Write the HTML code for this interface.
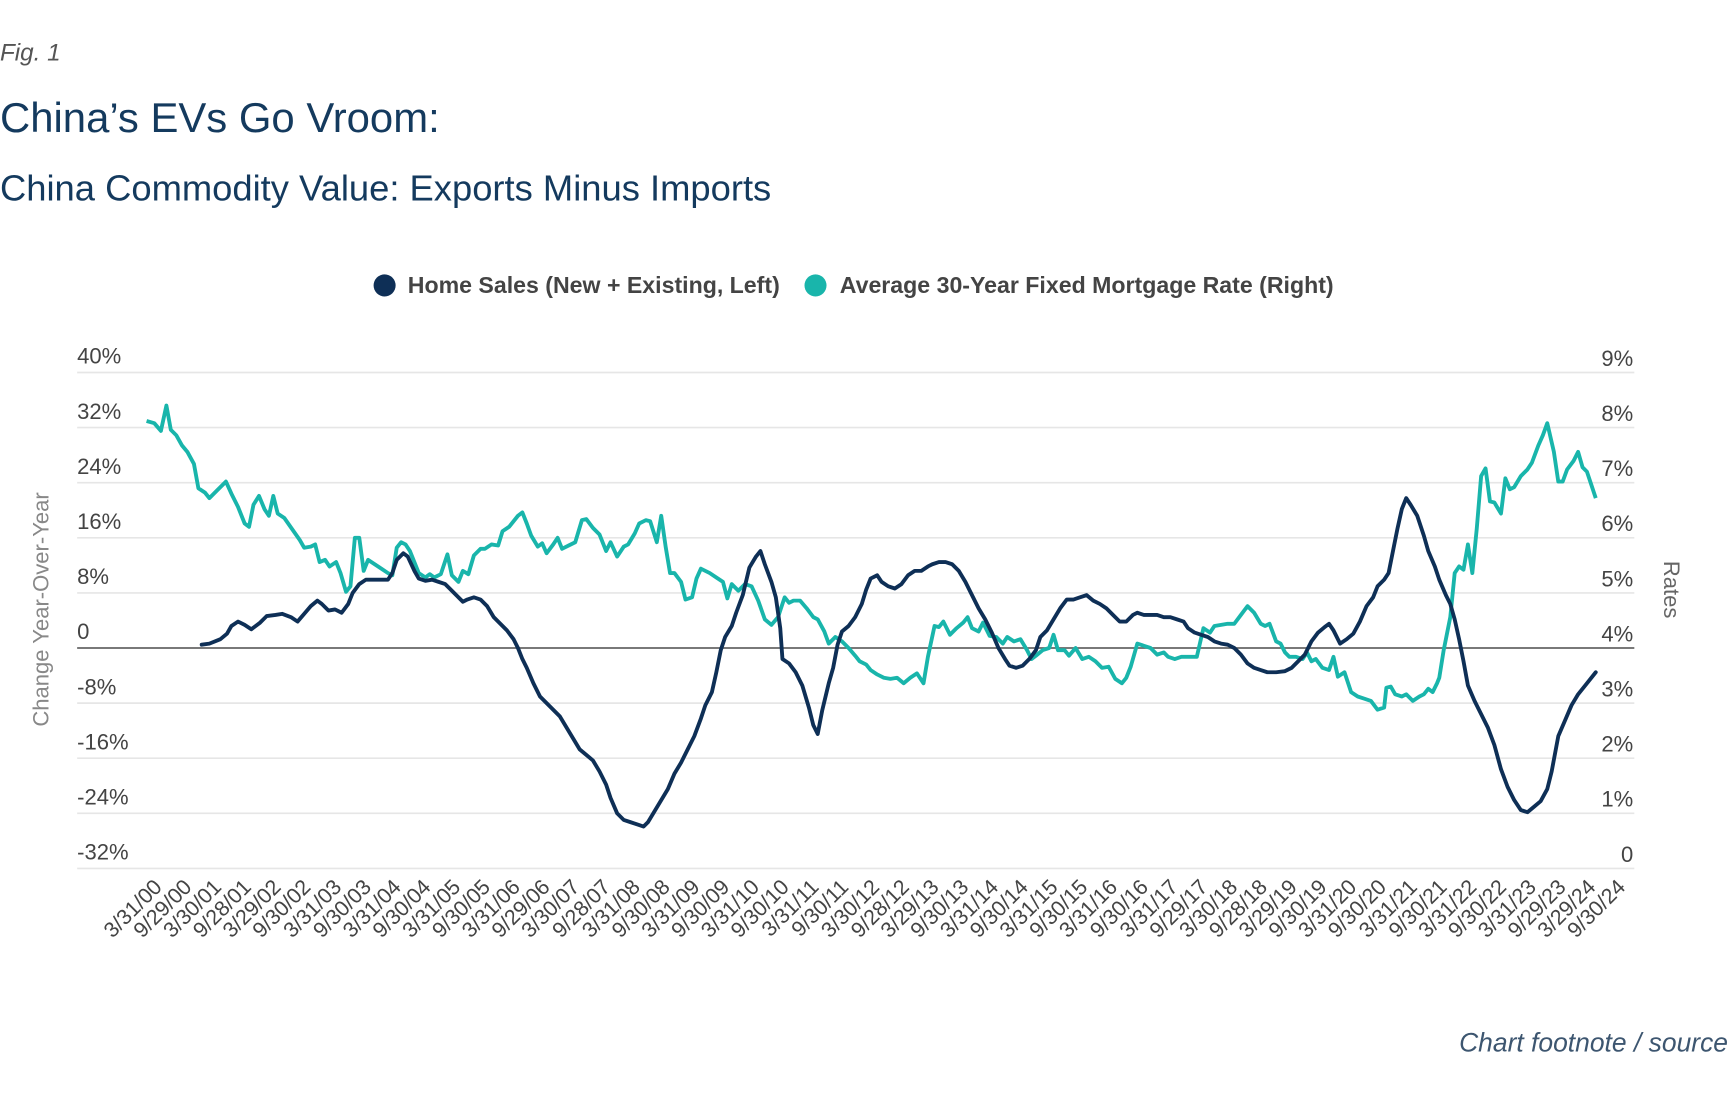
<!DOCTYPE html>
<html><head><meta charset="utf-8"><style>
html,body{margin:0;padding:0;background:#fff;width:1728px;height:1096px;overflow:hidden}
svg{display:block}
</style></head><body>
<svg width="1728" height="1096" viewBox="0 0 1568 994.5" preserveAspectRatio="none" font-family="Liberation Sans, sans-serif">
<text x="0" y="55" font-size="22" font-style="italic" fill="#555">Fig. 1</text>
<text x="0" y="120" font-size="38" fill="#143a5e">China’s EVs Go Vroom:</text>
<text x="0" y="182" font-size="33" fill="#143a5e">China Commodity Value: Exports Minus Imports</text>
<circle cx="349" cy="259" r="10" fill="#0e2f56"/>
<text x="370" y="266" font-size="21" font-weight="bold" fill="#444">Home Sales (New + Existing, Left)</text>
<circle cx="740" cy="259" r="10" fill="#19b5ab"/>
<text x="762" y="266" font-size="21" font-weight="bold" fill="#444">Average 30-Year Fixed Mortgage Rate (Right)</text>
<g stroke="#e6e6e6" stroke-width="1.5">
<line x1="70" x2="1483" y1="338" y2="338"/><line x1="70" x2="1483" y1="388" y2="388"/><line x1="70" x2="1483" y1="438" y2="438"/><line x1="70" x2="1483" y1="488" y2="488"/><line x1="70" x2="1483" y1="538" y2="538"/><line x1="70" x2="1483" y1="638" y2="638"/><line x1="70" x2="1483" y1="688" y2="688"/><line x1="70" x2="1483" y1="738" y2="738"/><line x1="70" x2="1483" y1="788" y2="788"/>
</g>
<line x1="70" x2="1483" y1="588" y2="588" stroke="#666" stroke-width="1.5"/>
<g font-size="20" fill="#444">
<text x="70" y="330">40%</text><text x="70" y="380">32%</text><text x="70" y="430">24%</text><text x="70" y="480">16%</text><text x="70" y="530">8%</text><text x="70" y="580">0</text><text x="70" y="630">-8%</text><text x="70" y="680">-16%</text><text x="70" y="730">-24%</text><text x="70" y="780">-32%</text>
</g>
<g font-size="20" fill="#444" text-anchor="end">
<text x="1482" y="332">9%</text><text x="1482" y="382">8%</text><text x="1482" y="432">7%</text><text x="1482" y="482">6%</text><text x="1482" y="532">5%</text><text x="1482" y="582">4%</text><text x="1482" y="632">3%</text><text x="1482" y="682">2%</text><text x="1482" y="732">1%</text><text x="1482" y="782">0</text>
</g>
<text transform="translate(44,553) rotate(-90)" text-anchor="middle" font-size="20" fill="#888">Change Year-Over-Year</text>
<text transform="translate(1510,535) rotate(90)" text-anchor="middle" font-size="20" fill="#666">Rates</text>
<polyline fill="none" stroke="#19b5ab" stroke-width="3.5" stroke-linejoin="round" points="133,382 140,384 146,391 151,368 155,390 160,395 165,404 170,410 176,421 180,443 186,447 190,452 197,445 205,437 210,448 216,460 222,475 226,478 230,458 235,450 240,462 244,468 248,450 252,466 258,470 265,480 272,490 276,497 282,496 286,494 290,510 295,508 299,514 305,510 309,520 314,537 318,532 322,488 326,488 330,518 334,508 340,512 346,516 352,520 356,522 360,497 364,492 368,494 372,500 376,510 380,520 386,524 390,521 394,524 400,521 406,503 410,522 416,528 420,518 425,521 430,504 436,498 440,498 446,494 452,495 456,482 462,478 470,468 474,465 478,475 482,486 488,496 492,493 496,502 502,494 506,488 510,498 516,495 522,492 528,472 532,471 538,479 544,485 550,500 554,492 560,505 566,496 570,494 576,484 580,475 586,472 590,473 596,492 600,468 604,496 608,520 612,520 618,528 622,544 628,542 632,525 636,516 644,520 650,524 656,528 660,543 664,530 670,536 676,530 682,532 688,545 694,562 700,567 706,560 712,542 716,547 720,545 726,545 732,552 738,560 742,562 748,573 752,584 758,578 764,582 770,588 776,595 780,600 786,603 790,608 796,612 802,615 808,616 814,615 820,620 826,615 832,611 838,620 842,596 848,568 852,569 856,564 862,576 868,570 874,565 878,560 882,570 888,573 892,565 898,577 904,578 910,584 914,578 920,582 926,580 932,590 936,598 940,595 946,590 952,588 956,576 960,590 966,590 970,595 976,588 982,598 988,596 994,600 1000,606 1006,605 1012,616 1018,620 1022,615 1026,605 1032,584 1038,586 1044,588 1050,594 1056,592 1060,596 1066,598 1072,596 1078,596 1086,596 1092,570 1098,574 1102,568 1108,567 1114,566 1120,566 1126,558 1132,550 1138,556 1144,566 1148,568 1152,566 1158,582 1162,584 1166,592 1170,596 1176,596 1182,598 1186,592 1190,600 1194,598 1200,606 1206,608 1210,596 1214,614 1220,610 1226,628 1232,632 1238,634 1244,636 1250,644 1256,642 1258,624 1262,623 1266,630 1272,632 1276,630 1282,636 1288,632 1292,630 1296,625 1300,628 1304,620 1306,615 1310,590 1316,560 1320,520 1324,514 1328,517 1332,494 1336,520 1340,480 1344,432 1348,425 1352,455 1356,456 1362,466 1366,434 1370,444 1374,442 1380,432 1386,426 1390,420 1396,404 1400,395 1404,384 1410,410 1414,437 1418,437 1422,426 1428,418 1432,410 1436,424 1440,428 1444,440 1448,452"/>
<polyline fill="none" stroke="#0e2f56" stroke-width="3.5" stroke-linejoin="round" stroke-linecap="round" points="183,585 190,584 200,580 206,575 210,568 216,564 222,567 228,571 236,565 242,559 250,558 256,557 264,560 270,564 276,557 282,550 288,545 292,548 298,554 304,553 310,556 316,548 320,538 326,530 332,526 340,526 346,526 352,526 356,520 360,508 366,502 370,505 376,518 380,525 386,527 392,526 398,528 404,530 408,534 414,540 420,546 424,544 430,542 436,544 442,550 448,560 454,566 460,572 466,580 470,588 474,598 478,606 484,620 490,632 496,638 502,644 508,650 514,660 520,670 526,680 532,685 538,690 544,700 550,712 554,724 560,738 566,744 572,746 578,748 584,750 588,746 594,736 600,726 606,716 612,702 618,692 624,680 630,668 636,652 640,640 646,628 650,610 654,590 658,578 664,568 668,556 674,540 680,515 686,505 690,500 694,512 700,528 704,542 708,570 710,598 716,602 722,610 728,622 734,642 738,658 742,666 746,645 752,620 756,606 760,585 764,573 770,568 776,560 782,548 786,535 790,525 796,522 800,528 806,532 812,534 818,530 824,522 830,518 836,518 842,514 846,512 852,510 858,510 864,512 870,518 876,528 882,540 888,552 894,562 900,574 906,588 912,598 916,604 922,606 928,604 934,598 940,590 944,578 950,572 956,562 962,552 968,544 974,544 980,542 986,540 992,545 998,548 1004,552 1010,558 1016,564 1022,564 1028,558 1032,556 1038,558 1044,558 1050,558 1056,560 1062,560 1068,562 1074,564 1078,570 1084,574 1090,576 1096,578 1102,582 1108,584 1114,585 1120,588 1126,594 1132,602 1138,606 1144,608 1150,610 1158,610 1166,609 1172,606 1178,600 1184,594 1190,582 1196,574 1202,569 1206,566 1210,572 1216,584 1222,580 1228,575 1234,564 1240,550 1246,542 1250,532 1256,526 1260,520 1264,500 1268,480 1272,462 1276,452 1280,458 1286,468 1292,486 1296,500 1302,514 1306,526 1312,540 1316,548 1320,562 1324,580 1328,600 1332,622 1338,636 1344,648 1350,660 1356,676 1362,698 1368,714 1374,726 1380,735 1386,737 1392,732 1398,727 1404,716 1408,700 1414,668 1420,654 1426,640 1432,630 1440,620 1448,610"/>
<text x="1568" y="954" text-anchor="end" font-size="24" font-style="italic" fill="#3d5670">Chart footnote / source</text>
<g font-size="19.5" fill="#444" text-anchor="end">
<text transform="translate(148,806) rotate(-45)">3/31/00</text><text transform="translate(175,806) rotate(-45)">9/29/00</text><text transform="translate(202,806) rotate(-45)">3/30/01</text><text transform="translate(229,806) rotate(-45)">9/28/01</text><text transform="translate(256,806) rotate(-45)">3/29/02</text><text transform="translate(283,806) rotate(-45)">9/30/02</text><text transform="translate(311,806) rotate(-45)">3/31/03</text><text transform="translate(338,806) rotate(-45)">9/30/03</text><text transform="translate(365,806) rotate(-45)">3/31/04</text><text transform="translate(392,806) rotate(-45)">9/30/04</text><text transform="translate(419,806) rotate(-45)">3/31/05</text><text transform="translate(446,806) rotate(-45)">9/30/05</text><text transform="translate(473,806) rotate(-45)">3/31/06</text><text transform="translate(500,806) rotate(-45)">9/29/06</text><text transform="translate(527,806) rotate(-45)">3/30/07</text><text transform="translate(555,806) rotate(-45)">9/28/07</text><text transform="translate(582,806) rotate(-45)">3/31/08</text><text transform="translate(609,806) rotate(-45)">9/30/08</text><text transform="translate(636,806) rotate(-45)">3/31/09</text><text transform="translate(663,806) rotate(-45)">9/30/09</text><text transform="translate(690,806) rotate(-45)">3/31/10</text><text transform="translate(717,806) rotate(-45)">9/30/10</text><text transform="translate(744,806) rotate(-45)">3/31/11</text><text transform="translate(771,806) rotate(-45)">9/30/11</text><text transform="translate(799,806) rotate(-45)">3/30/12</text><text transform="translate(826,806) rotate(-45)">9/28/12</text><text transform="translate(853,806) rotate(-45)">3/29/13</text><text transform="translate(880,806) rotate(-45)">9/30/13</text><text transform="translate(907,806) rotate(-45)">3/31/14</text><text transform="translate(934,806) rotate(-45)">9/30/14</text><text transform="translate(961,806) rotate(-45)">3/31/15</text><text transform="translate(988,806) rotate(-45)">9/30/15</text><text transform="translate(1015,806) rotate(-45)">3/31/16</text><text transform="translate(1043,806) rotate(-45)">9/30/16</text><text transform="translate(1070,806) rotate(-45)">3/31/17</text><text transform="translate(1097,806) rotate(-45)">9/29/17</text><text transform="translate(1124,806) rotate(-45)">3/30/18</text><text transform="translate(1151,806) rotate(-45)">9/28/18</text><text transform="translate(1178,806) rotate(-45)">3/29/19</text><text transform="translate(1205,806) rotate(-45)">9/30/19</text><text transform="translate(1232,806) rotate(-45)">3/31/20</text><text transform="translate(1259,806) rotate(-45)">9/30/20</text><text transform="translate(1287,806) rotate(-45)">3/31/21</text><text transform="translate(1314,806) rotate(-45)">9/30/21</text><text transform="translate(1341,806) rotate(-45)">3/31/22</text><text transform="translate(1368,806) rotate(-45)">9/30/22</text><text transform="translate(1395,806) rotate(-45)">3/31/23</text><text transform="translate(1422,806) rotate(-45)">9/29/23</text><text transform="translate(1449,806) rotate(-45)">3/29/24</text><text transform="translate(1476,806) rotate(-45)">9/30/24</text>
</g>
</svg>
</body></html>
